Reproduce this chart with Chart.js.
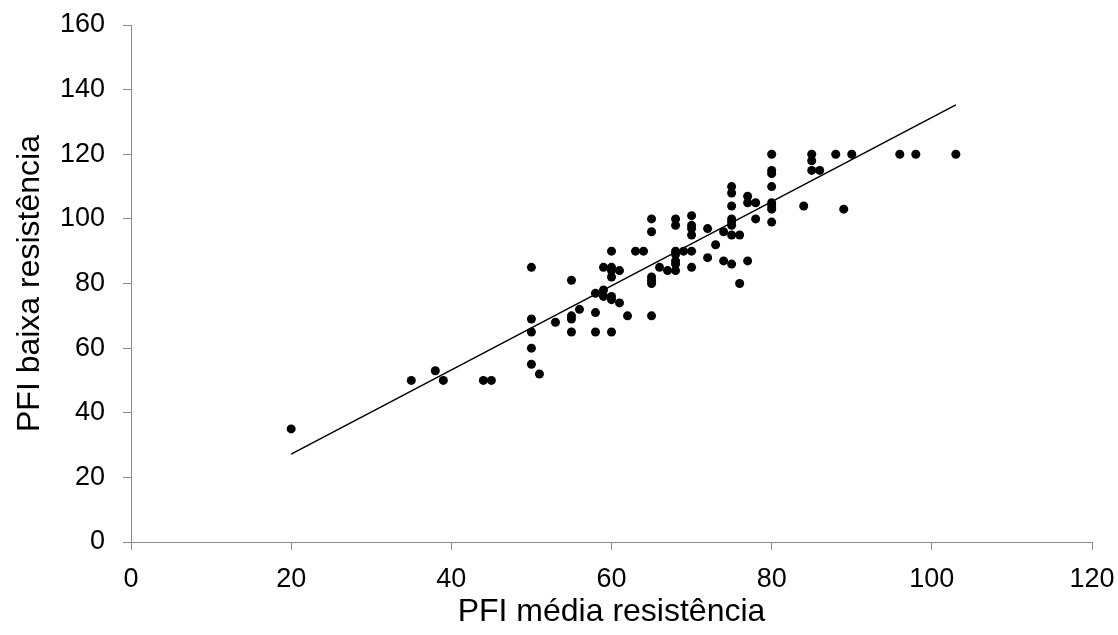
<!DOCTYPE html>
<html>
<head>
<meta charset="utf-8">
<script src="https://cdn.jsdelivr.net/npm/chart.js@4.4.1/dist/chart.umd.min.js"></script>
<style>
  body { margin: 0; background: #fff; }
</style>
</head>
<body>
<canvas id="grafPfi" width="1118" height="635"></canvas>
<script>
// PFI média resistência (x) vs PFI baixa resistência (y)
const pfiMedia = [
  20, 35, 38, 39, 44, 45,
  50, 50, 50, 50, 50, 51, 53,
  55, 55, 55, 55, 56,
  58, 58, 58, 59, 59, 59,
  60, 60, 60, 60, 60, 60, 60, 61, 61, 62, 63, 64,
  65, 65, 65, 65, 65, 65, 66, 67,
  68, 68, 68, 68, 68, 68, 68, 69,
  70, 70, 70, 70, 70, 70, 72, 72, 73, 74, 74,
  75, 75, 75, 75, 75, 75, 75, 75, 76, 76, 77, 77, 77, 78, 78,
  80, 80, 80, 80, 80, 80, 80, 80,
  84, 85, 85, 85, 86, 88, 89, 90, 96, 98, 103
]
const pfiBaixa = [
  35, 50, 53, 50, 50, 50,
  85, 69, 65, 60, 55, 52, 68,
  81, 70, 69, 65, 72,
  77, 71, 65, 85, 78, 76,
  90, 85, 84, 82, 76, 75, 65, 84, 74, 70, 90, 90,
  100, 96, 82, 81, 80, 70, 85, 84,
  100, 98, 90, 89, 87, 86, 84, 90,
  101, 98, 97, 95, 90, 85, 97, 88, 92, 96, 87,
  110, 108, 104, 100, 99, 98, 95, 86, 95, 80, 107, 105, 87, 105, 100,
  120, 115, 114, 110, 105, 104, 103, 99,
  104, 120, 118, 115, 115, 120, 103, 120, 120, 120, 120
]

// linha de tendência (extremos)
const trendX = [20, 103]
const trendY = [27.2, 135.3]

const xTicks = [0, 20, 40, 60, 80, 100, 120]
const yTicks = [0, 20, 40, 60, 80, 100, 120, 140, 160]

const fonte = "'Liberation Sans', Arial, sans-serif"
const cinza = '#898989'

const grafico = () => {
    const pontos = pfiMedia.map((x, i) => ({x: x, y: pfiBaixa[i]}))
    const tendencia = trendX.map((x, i) => ({x: x, y: trendY[i]}))

    const data = {
        datasets: [{
            type: 'scatter',
            data: pontos,
            backgroundColor: '#000',
            borderWidth: 0,
            pointRadius: 4.5
        }, {
            type: 'line',
            data: tendencia,
            borderColor: '#000',
            borderWidth: 1.5,
            pointRadius: 0,
            fill: false
        }]
    }

    const config = {
        type: 'scatter',
        data,
        options: {
            responsive: false,
            animation: false,
            layout: {
                padding: {left: 0, right: 26, top: 25, bottom: 0}
            },
            plugins: {
                legend: {display: false},
                tooltip: {enabled: false}
            },
            scales: {
                x: {
                    type: 'linear',
                    min: 0,
                    max: 120,
                    afterBuildTicks: (scale) => { scale.ticks = xTicks.map(v => ({value: v})) },
                    afterFit: (scale) => {
                        scale.height = 93
                        scale.paddingLeft = 0
                        scale.paddingRight = 0
                    },
                    grid: {display: true, drawOnChartArea: false, tickLength: 8, color: cinza},
                    border: {color: cinza, width: 1},
                    ticks: {color: '#000', font: {family: fonte, size: 27}, padding: 13},
                    title: {
                        display: true,
                        text: 'PFI média resistência',
                        color: '#000',
                        font: {family: fonte, size: 32},
                        padding: {top: 0, bottom: 4}
                    }
                },
                y: {
                    type: 'linear',
                    min: 0,
                    max: 160,
                    afterBuildTicks: (scale) => { scale.ticks = yTicks.map(v => ({value: v})) },
                    afterFit: (scale) => {
                        scale.width = 131
                        scale.paddingTop = 0
                        scale.paddingBottom = 0
                    },
                    grid: {display: true, drawOnChartArea: false, tickLength: 8, color: cinza},
                    border: {color: cinza, width: 1},
                    ticks: {color: '#000', font: {family: fonte, size: 27}, padding: 18},
                    title: {
                        display: true,
                        text: 'PFI baixa resistência',
                        color: '#000',
                        font: {family: fonte, size: 32},
                        padding: {top: 11, bottom: 0}
                    }
                }
            }
        }
    }

    new Chart(document.getElementById('grafPfi'), config)
}

grafico()
</script>
</body>
</html>
